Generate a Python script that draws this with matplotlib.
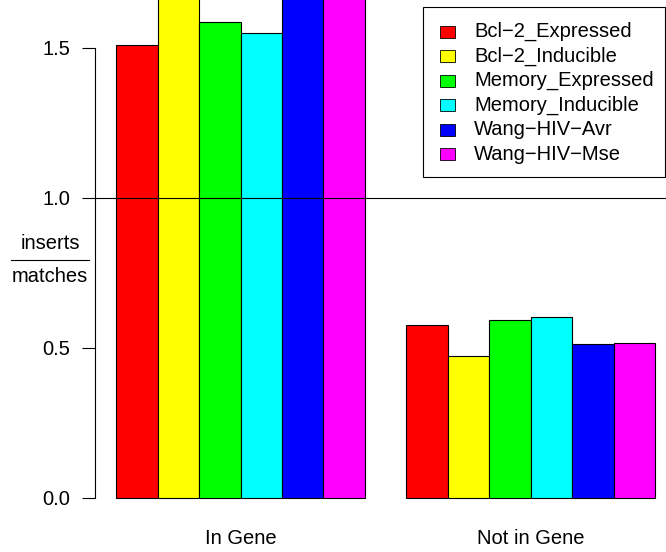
import numpy as np
import matplotlib
matplotlib.use("Agg")
from matplotlib import pyplot as plt
from matplotlib.patches import Rectangle
from matplotlib.lines import Line2D

plt.rcParams['font.family'] = ['Liberation Sans', 'DejaVu Sans']

# Data
groups = ["In Gene", "Not in Gene"]
series = ["Bcl\u22122_Expressed", "Bcl\u22122_Inducible", "Memory_Expressed",
          "Memory_Inducible", "Wang\u2212HIV\u2212Avr", "Wang\u2212HIV\u2212Mse"]
colors = ["#FF0000", "#FFFF00", "#00FF00", "#00FFFF", "#0000FF", "#FF00FF"]
in_gene = [1.508, 1.75, 1.585, 1.548, 1.72, 1.80]
not_in_gene = [0.577, 0.473, 0.593, 0.601, 0.512, 0.516]
values = [in_gene, not_in_gene]
yticks = [0.0, 0.5, 1.0, 1.5]

FS = 14.5
W, H = 666, 552
fig = plt.figure(figsize=(W / 100, H / 100), dpi=100)

# axes placed in pixel terms (plot region runs past the picture on top/right)
x0_px, x1_px = 94.7, 676.6
zero_px, px_per_unit = 497.7, 300.0
ybot_px, ytop_px = 520.0, -72.3
ax = fig.add_axes([x0_px / W, (H - ybot_px) / H,
                   (x1_px - x0_px) / W, (ybot_px - ytop_px) / H])
ax.set_xlim(0.48, 14.52)
ax.set_ylim((zero_px - ybot_px) / px_per_unit, (zero_px - ytop_px) / px_per_unit)

for g, vals in enumerate(values):
    for i, v in enumerate(vals):
        ax.bar(1 + g * 7 + i + 0.5, v, width=1.0, color=colors[i],
               edgecolor="black", linewidth=0.8, zorder=2)

ax.axhline(1.0, color="black", linewidth=0.8, zorder=3)

for s in ["top", "right", "bottom"]:
    ax.spines[s].set_visible(False)
ax.spines["left"].set_bounds(0, 1.5)
ax.spines["left"].set_linewidth(0.8)
ax.set_xticks([])
ax.set_yticks(yticks)
ax.set_yticklabels(["%.1f" % t for t in yticks], fontsize=FS)
ax.tick_params(axis="y", length=9.1, width=0.8, pad=8.5)

# group labels
for g, name in enumerate(groups):
    ax.text(1 + g * 7 + 3.0, (zero_px - 539) / px_per_unit, name,
            ha="center", va="center", fontsize=FS)

# y label as fraction
fig.text(50 / W, 1 - 243 / H, "inserts", ha="center", va="center", fontsize=FS)
fig.text(50 / W, 1 - 276 / H, "matches", ha="center", va="center", fontsize=FS)
fig.add_artist(Line2D([11 / W, 89 / W], [1 - 260 / H, 1 - 260 / H],
                      color="black", linewidth=0.8, transform=fig.transFigure))

# legend drawn by hand
lx0, lx1, ly0, ly1 = 422.7, 665.0, 6.7, 176.7
fig.add_artist(Rectangle((lx0 / W, 1 - ly1 / H), (lx1 - lx0) / W, (ly1 - ly0) / H,
                         transform=fig.transFigure, facecolor="white",
                         edgecolor="black", linewidth=0.8, zorder=5))
for i, (name, c) in enumerate(zip(series, colors)):
    cy = 31.8 + i * 24.5
    fig.add_artist(Rectangle((440 / W, 1 - (cy + 6) / H), 15 / W, 12 / H,
                             transform=fig.transFigure, facecolor=c,
                             edgecolor="black", linewidth=0.6, zorder=6))
    fig.text(474 / W, 1 - cy / H, name, ha="left", va="center", fontsize=FS, zorder=6)

fig.savefig("out.png", dpi=100, facecolor="white")
